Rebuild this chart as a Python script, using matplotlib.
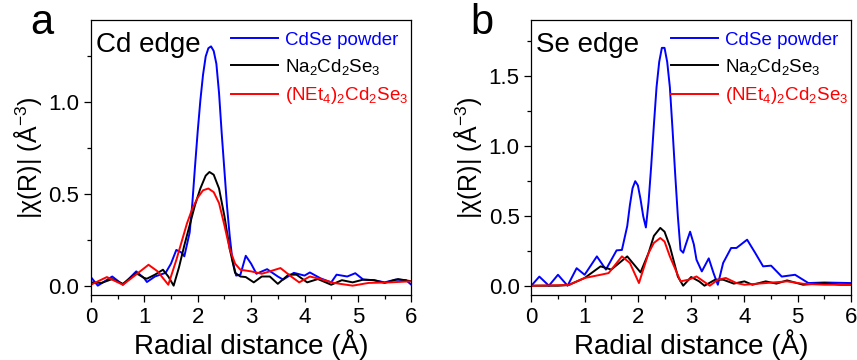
import numpy as np
import matplotlib
matplotlib.use('Agg')
import matplotlib.pyplot as plt
from matplotlib.ticker import MultipleLocator

plt.rcParams['font.family'] = ['Liberation Sans', 'DejaVu Sans']
plt.rcParams['mathtext.default'] = 'regular'

# ---------------- panel a : Cd edge ----------------
r_a_blue = [0, 0.13, 0.4, 0.6, 0.85, 1.0, 1.05, 1.2, 1.4, 1.5, 1.6, 1.7, 1.75, 1.85, 1.9,
            1.95, 2.0, 2.05, 2.1, 2.15, 2.2, 2.25, 2.3, 2.35, 2.4, 2.45, 2.5, 2.55, 2.6,
            2.65, 2.72, 2.8, 2.9, 3.0, 3.1, 3.3, 3.5, 3.6, 3.8, 4.0, 4.1, 4.3, 4.5, 4.6,
            4.8, 4.95, 5.1, 5.3, 5.5, 5.7, 5.9, 6.0]
a_blue = [0.047, 0.0, 0.05, 0.005, 0.078, 0.04, 0.02, 0.05, 0.07, 0.12, 0.195, 0.18, 0.16,
          0.29, 0.45, 0.65, 0.84, 1.01, 1.15, 1.25, 1.295, 1.305, 1.28, 1.21, 1.05, 0.83,
          0.63, 0.43, 0.27, 0.14, 0.055, 0.06, 0.163, 0.12, 0.065, 0.09, 0.05, 0.033, 0.07,
          0.055, 0.072, 0.04, 0.018, 0.06, 0.05, 0.068, 0.033, 0.03, 0.018, 0.033, 0.03,
          0.005]

r_a_black = [0, 0.2, 0.4, 0.6, 0.85, 1.0, 1.05, 1.2, 1.35, 1.45, 1.55, 1.65, 1.75, 1.85,
             1.95, 2.05, 2.15, 2.22, 2.3, 2.4, 2.5, 2.6, 2.7, 2.8, 2.9, 3.05, 3.2, 3.35,
             3.5, 3.7, 3.85, 4.05, 4.25, 4.5, 4.7, 4.9, 5.1, 5.3, 5.5, 5.75, 6.0]
a_black = [0.018, 0.015, 0.036, 0.01, 0.068, 0.042, 0.038, 0.06, 0.087, 0.05, 0.0, 0.1,
           0.22, 0.33, 0.44, 0.53, 0.6, 0.62, 0.605, 0.53, 0.38, 0.2, 0.07, 0.05, 0.047,
           0.018, 0.05, 0.05, 0.01, 0.06, 0.06, 0.018, 0.036, 0.005, 0.03, 0.018, 0.033,
           0.03, 0.015, 0.036, 0.024]

r_a_red = [0, 0.3, 0.6, 0.8, 1.08, 1.25, 1.45, 1.6, 1.7, 1.8, 1.9, 2.0, 2.1, 2.2, 2.3, 2.4,
           2.5, 2.6, 2.7, 2.8, 3.0, 3.2, 3.35, 3.55, 3.75, 3.9, 4.1, 4.3, 4.55, 4.9, 5.2,
           5.6, 6.0]
a_red = [0.005, 0.047, 0.005, 0.05, 0.114, 0.078, 0.005, 0.14, 0.24, 0.34, 0.42, 0.48,
         0.52, 0.53, 0.51, 0.45, 0.33, 0.2, 0.12, 0.087, 0.078, 0.065, 0.078, 0.096, 0.05,
         0.018, 0.05, 0.036, 0.015, 0.0, 0.015, 0.018, 0.024]

# ---------------- panel b : Se edge ----------------
r_b_blue = [0, 0.15, 0.33, 0.5, 0.68, 0.85, 1.0, 1.23, 1.4, 1.6, 1.7, 1.8, 1.85, 1.9, 1.95,
            2.0, 2.05, 2.1, 2.15, 2.2, 2.25, 2.3, 2.35, 2.4, 2.45, 2.5, 2.55, 2.6, 2.65,
            2.7, 2.75, 2.8, 2.85, 2.9, 2.98, 3.05, 3.1, 3.2, 3.33, 3.42, 3.5, 3.6, 3.75,
            3.85, 4.05, 4.2, 4.35, 4.5, 4.7, 4.95, 5.2, 5.5, 6.0]
b_blue = [0.005, 0.07, 0.005, 0.083, 0.005, 0.13, 0.083, 0.214, 0.12, 0.257, 0.26, 0.43,
          0.58, 0.7, 0.75, 0.72, 0.62, 0.5, 0.42, 0.6, 0.86, 1.15, 1.42, 1.6, 1.70, 1.70,
          1.6, 1.42, 1.12, 0.8, 0.5, 0.26, 0.24, 0.3, 0.39, 0.3, 0.19, 0.107, 0.2, 0.095,
          0.012, 0.167, 0.274, 0.274, 0.333, 0.24, 0.143, 0.148, 0.07, 0.083, 0.024, 0.028,
          0.024]

r_b_black = [0, 0.5, 0.7, 1.0, 1.3, 1.5, 1.8, 2.05, 2.2, 2.3, 2.42, 2.5, 2.6, 2.75, 2.85,
             3.0, 3.15, 3.25, 3.45, 3.6, 3.8, 4.0, 4.15, 4.4, 4.6, 4.8, 5.1, 5.5, 5.8, 6.0]
b_black = [0.005, 0.005, 0.01, 0.06, 0.143, 0.12, 0.214, 0.1, 0.238, 0.36, 0.417, 0.39,
           0.286, 0.07, 0.005, 0.067, 0.036, 0.005, 0.048, 0.048, 0.02, 0.036, 0.012,
           0.036, 0.02, 0.043, 0.012, 0.024, 0.012, 0.012]

r_b_red = [0, 0.7, 1.0, 1.3, 1.45, 1.7, 1.85, 2.02, 2.2, 2.3, 2.42, 2.5, 2.6, 2.8, 2.95,
           3.1, 3.35, 3.5, 3.65, 3.85, 4.0, 4.4, 4.8, 5.1, 5.5, 6.0]
b_red = [0.005, 0.01, 0.06, 0.083, 0.095, 0.214, 0.167, 0.024, 0.238, 0.31, 0.345, 0.32,
         0.214, 0.036, 0.048, 0.071, 0.005, 0.048, 0.06, 0.024, 0.012, 0.024, 0.036, 0.019,
         0.012, 0.012]

labels = ['CdSe powder', r'Na$_2$Cd$_2$Se$_3$', r'(NEt$_4$)$_2$Cd$_2$Se$_3$']
colors = ['#0000FF', 'black', '#FF0000']

fig = plt.figure(figsize=(8.57, 3.6), dpi=100)
ax_a = fig.add_axes([0.106, 0.181, 0.374, 0.764])
ax_b = fig.add_axes([0.620, 0.181, 0.373, 0.764])

panels = [
    (ax_a, [(r_a_blue, a_blue), (r_a_black, a_black), (r_a_red, a_red)], 'Cd edge', 'a', (-0.05, 1.45)),
    (ax_b, [(r_b_blue, b_blue), (r_b_black, b_black), (r_b_red, b_red)], 'Se edge', 'b', (-0.06, 1.9)),
]

for ax, series, edge, letter, ylim in panels:
    for (r, v), c, lab in zip(series, colors, labels):
        ax.plot(r, v, color=c, lw=1.4, label=lab)
    ax.set_xlim(0, 6)
    ax.set_ylim(*ylim)
    ax.xaxis.set_major_locator(MultipleLocator(1))
    ax.xaxis.set_minor_locator(MultipleLocator(0.5))
    ax.yaxis.set_major_locator(MultipleLocator(0.5))
    ax.yaxis.set_minor_locator(MultipleLocator(0.25))
    ax.tick_params(which='both', direction='out', labelsize=16, width=0.9)
    ax.tick_params(which='major', length=5)
    ax.tick_params(which='minor', length=3)
    for sp in ax.spines.values():
        sp.set_linewidth(0.9)
    ax.set_xlabel('Radial distance (Å)', fontsize=20, labelpad=1)
    ax.set_ylabel(r'|χ(R)| (Å$^{-3}$)', fontsize=18, labelpad=3)
    ax.text(0.016, 0.884, edge, transform=ax.transAxes, fontsize=20, va='baseline')
    ax.text(-0.19, 0.95, letter, transform=ax.transAxes, fontsize=30, va='baseline')
    leg = ax.legend(loc='upper left', bbox_to_anchor=(0.415, 0.985), frameon=False,
                    fontsize=13.5, handlelength=2.5, handletextpad=0.35,
                    labelspacing=0.45, borderaxespad=0, labelcolor='linecolor')

fig.savefig('out.png', dpi=100)
